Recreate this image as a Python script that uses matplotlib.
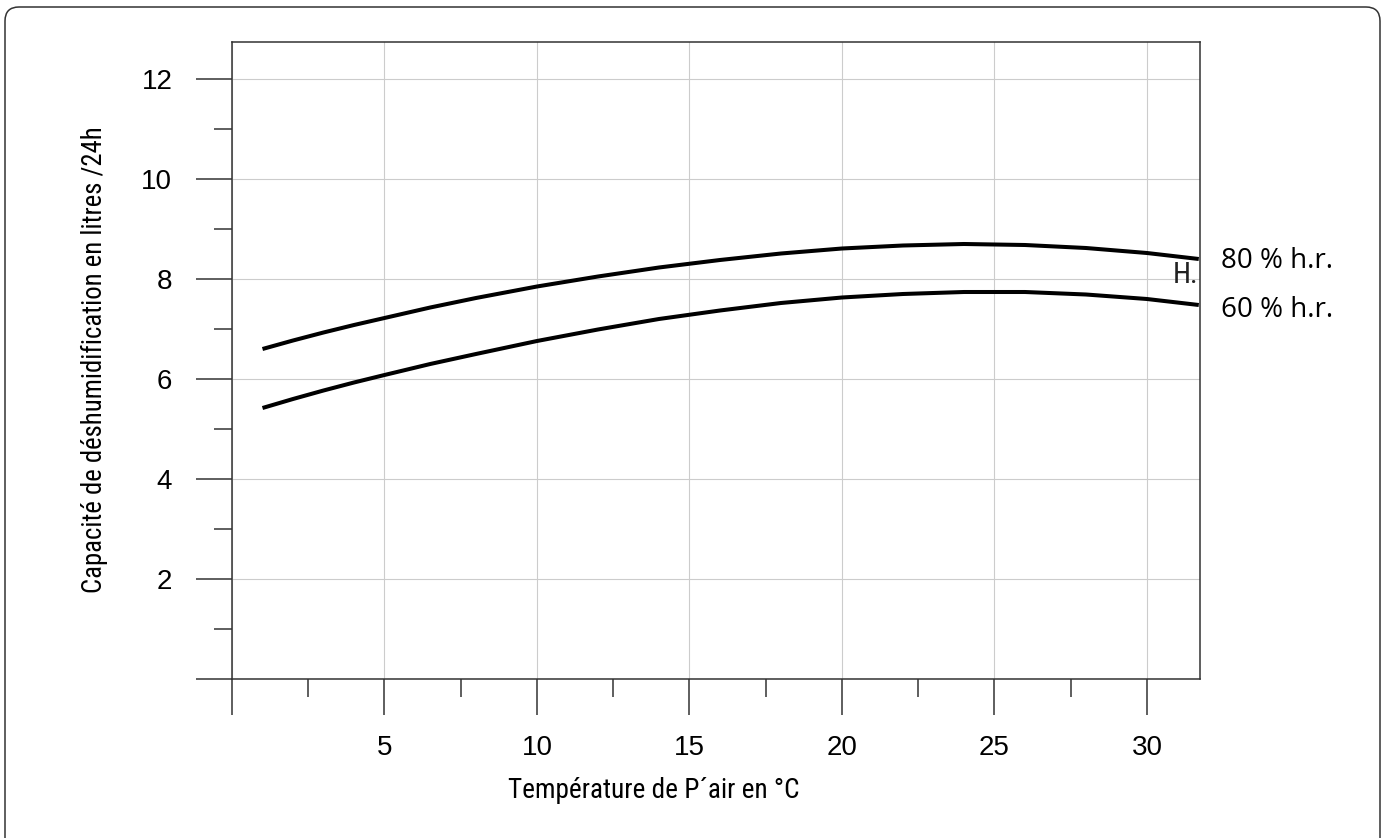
import matplotlib
matplotlib.use("Agg")
import matplotlib.pyplot as plt
from matplotlib.patches import FancyBboxPatch
from matplotlib.transforms import IdentityTransform

# temperature (°C) and capacity (l/24h)
temp = [1, 2, 3, 4, 5, 6.5, 8, 10, 12, 14, 16, 18, 20, 22, 24, 26, 28, 30, 31.7]
hr80 = [6.60, 6.77, 6.93, 7.08, 7.22, 7.43, 7.62, 7.85, 8.05, 8.23, 8.38, 8.51,
        8.61, 8.67, 8.70, 8.68, 8.62, 8.52, 8.40]
hr60 = [5.42, 5.60, 5.77, 5.93, 6.08, 6.30, 6.50, 6.76, 6.99, 7.20, 7.37, 7.52,
        7.63, 7.70, 7.74, 7.74, 7.69, 7.60, 7.48]

x_major = [0, 5, 10, 15, 20, 25, 30]
x_labels = ["", "5", "10", "15", "20", "25", "30"]
x_minor = [2.5, 7.5, 12.5, 17.5, 22.5, 27.5]
y_major = [0, 2, 4, 6, 8, 10, 12]
y_labels = ["", "2", "4", "6", "8", "10", "12"]
y_minor = [1, 3, 5, 7, 9, 11]

W, H = 1387, 838
INK = "#333333"
COND = "Roboto Condensed"

fig = plt.figure(figsize=(W / 100, H / 100), dpi=100)

# rounded frame around the whole picture (bottom edge runs off the image)
frame = FancyBboxPatch((5, -40), 1375, H - 7 + 40,
                       boxstyle="round,pad=0,rounding_size=14",
                       transform=IdentityTransform(), fill=False,
                       edgecolor=INK, linewidth=1.1)
fig.patches.append(frame)

ax = fig.add_axes([232 / W, 1 - 679 / H, 968 / W, 637 / H])
ax.set_xlim(0, 31.74)
ax.set_ylim(0, 12.74)

for series in (hr80, hr60):
    ax.plot(temp, series, color="black", linewidth=2.9,
            solid_capstyle="butt", solid_joinstyle="round", zorder=3)

ax.set_xticks(x_major)
ax.set_xticklabels(x_labels)
ax.set_xticks(x_minor, minor=True)
ax.set_yticks(y_major)
ax.set_yticklabels(y_labels)
ax.set_yticks(y_minor, minor=True)

ax.tick_params(which="major", direction="out", length=26, width=1.1, color=INK,
               labelsize=20, labelcolor="black")
ax.tick_params(which="minor", direction="out", length=13, width=1.1, color=INK)
ax.tick_params(axis="x", which="major", pad=14)
ax.tick_params(axis="y", which="major", pad=17)
for lab in ax.get_xticklabels() + ax.get_yticklabels():
    lab.set_family("Liberation Sans")

for sp in ax.spines.values():
    sp.set_color(INK)
    sp.set_linewidth(1.1)

ax.grid(which="major", color="#cccccc", linewidth=0.8)
ax.set_axisbelow(True)

ax.set_xlabel("Température de P´air en °C", family=COND, fontsize=19.6, va="baseline")
ax.xaxis.set_label_coords(0.436, -0.187)
ax.set_ylabel("Capacité de déshumidification en litres /24h", family=COND, fontsize=19.3)
ax.yaxis.set_label_coords(-0.128, 0.502)

# curve labels on the right
ax.text(32.43, 8.22, "80 % h.r.", family="Open Sans", fontsize=20, va="baseline", clip_on=False)
ax.text(32.43, 7.24, "60 % h.r.", family="Open Sans", fontsize=20, va="baseline", clip_on=False)
ax.text(31.68, 7.92, "H.", family=COND, fontsize=21, ha="right", va="baseline", color="#222222")

fig.savefig("out.png", dpi=100)
